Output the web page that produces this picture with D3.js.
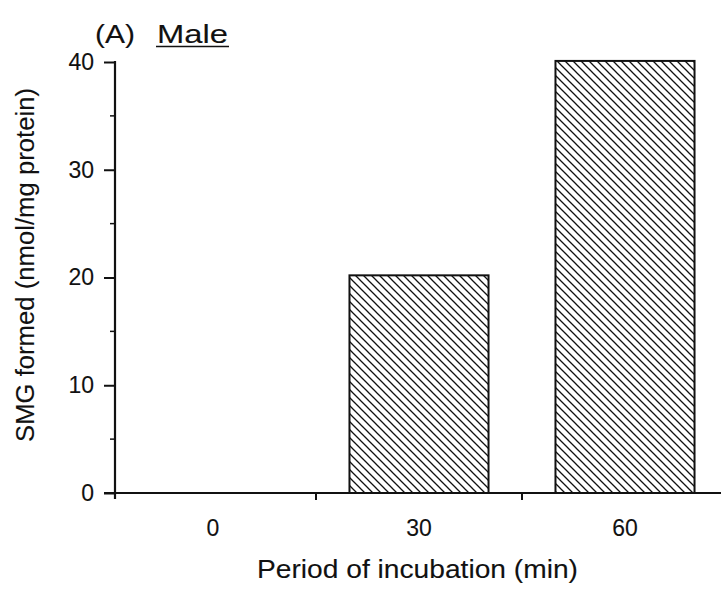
<!DOCTYPE html>
<html>
<head>
<meta charset="utf-8">
<script src="https://cdn.jsdelivr.net/npm/d3@7"></script>
<style>
  html, body { margin: 0; padding: 0; background: #fff; }
  svg { display: block; }
  text { font-family: "Liberation Sans", Arial, Helvetica, sans-serif; fill: #111; stroke: #111; stroke-width: 0.1px; }
</style>
</head>
<body>
<svg id="chart" width="721" height="589"></svg>
<script>
// ---- data ----
const categories = ["0", "30", "60"];
const values = [0, 20.2, 40.1];
const yTicks = [0, 10, 20, 30, 40];
const yMinorTicks = [5, 15, 25, 35];
const panelLabel = "(A)";
const titleText = "Male";
const xTitle = "Period of incubation (min)";
const yTitle = "SMG formed (nmol/mg protein)";

// ---- layout ----
const W = 721, H = 589;
const axisX = 115;        // y-axis position
const y0px = 493, y40px = 62;

const svg = d3.select("#chart");
svg.append("rect").attr("width", W).attr("height", H).attr("fill", "#fff");

const defs = svg.append("defs");
const pat = defs.append("pattern")
  .attr("id", "hatch").attr("patternUnits", "userSpaceOnUse")
  .attr("width", 8).attr("height", 8);
pat.append("rect").attr("width", 8).attr("height", 8).attr("fill", "#fff");
pat.append("path")
  .attr("d", "M-2,6 L2,10 M0,0 L8,8 M6,-2 L10,2")
  .attr("stroke", "#111").attr("stroke-width", 1.3);

const x = d3.scaleBand().domain(categories).range([110, 728])
  .paddingInner(0.325).paddingOuter(0.1625);
const y = d3.scaleLinear().domain([0, 40]).range([y0px, y40px]);

// bars
svg.append("g").selectAll("rect").data(categories).join("rect")
  .attr("x", d => x(d))
  .attr("y", (d, i) => y(values[i]))
  .attr("width", x.bandwidth())
  .attr("height", (d, i) => y(0) - y(values[i]))
  .attr("fill", "url(#hatch)")
  .attr("stroke", "#111").attr("stroke-width", 2)
  .attr("display", (d, i) => values[i] > 0 ? null : "none");

// y axis
const yAxis = svg.append("g").attr("transform", `translate(${axisX},0)`)
  .call(d3.axisLeft(y).tickValues(yTicks).tickSize(11).tickPadding(10).tickFormat(d3.format("d")));
yAxis.attr("font-size", null).attr("font-family", null);
yAxis.select(".domain").remove();
yAxis.selectAll(".tick line").attr("stroke", "#111").attr("stroke-width", 2);
yAxis.selectAll(".tick text").style("font-size", "23px").attr("fill", "#111");
svg.append("g").attr("transform", `translate(${axisX},0)`)
  .selectAll("line").data(yMinorTicks).join("line")
  .attr("x1", -5).attr("x2", 0).attr("y1", d => y(d)).attr("y2", d => y(d))
  .attr("stroke", "#111").attr("stroke-width", 1.5);
svg.append("line").attr("x1", axisX).attr("x2", axisX)
  .attr("y1", y(0) + 6).attr("y2", y(40) - 1)
  .attr("stroke", "#111").attr("stroke-width", 2.2);

// x axis
svg.append("line").attr("x1", axisX - 11).attr("x2", W)
  .attr("y1", y(0)).attr("y2", y(0))
  .attr("stroke", "#111").attr("stroke-width", 2.2);
const step = x.step();
const boundaries = categories.slice(0, -1).map(d => x(d) + x.bandwidth() / 2 + step / 2);
svg.append("g").selectAll("line").data(boundaries).join("line")
  .attr("x1", d => d).attr("x2", d => d)
  .attr("y1", y(0)).attr("y2", y(0) + 7)
  .attr("stroke", "#111").attr("stroke-width", 2);
svg.append("g").selectAll("text").data(categories).join("text")
  .attr("x", d => x(d) + x.bandwidth() / 2)
  .attr("y", y(0) + 43)
  .attr("text-anchor", "middle").style("font-size", "23px")
  .text(d => d);

// titles
svg.append("text").attr("x", 95).attr("y", 43).style("font-size", "26px")
  .attr("textLength", 40).attr("lengthAdjust", "spacingAndGlyphs").text(panelLabel);
svg.append("text").attr("x", 157).attr("y", 43).style("font-size", "26px")
  .attr("textLength", 71).attr("lengthAdjust", "spacingAndGlyphs").text(titleText);
svg.append("line").attr("x1", 156).attr("x2", 229).attr("y1", 46.5).attr("y2", 46.5)
  .attr("stroke", "#111").attr("stroke-width", 1.5);

svg.append("text").attr("x", 257).attr("y", 578).style("font-size", "25px")
  .attr("textLength", 321).attr("lengthAdjust", "spacingAndGlyphs").text(xTitle);

svg.append("text")
  .attr("transform", "translate(34,442) rotate(-90)")
  .attr("x", 0).attr("y", 0).style("font-size", "26px")
  .attr("textLength", 354).attr("lengthAdjust", "spacingAndGlyphs").text(yTitle);
</script>
</body>
</html>
